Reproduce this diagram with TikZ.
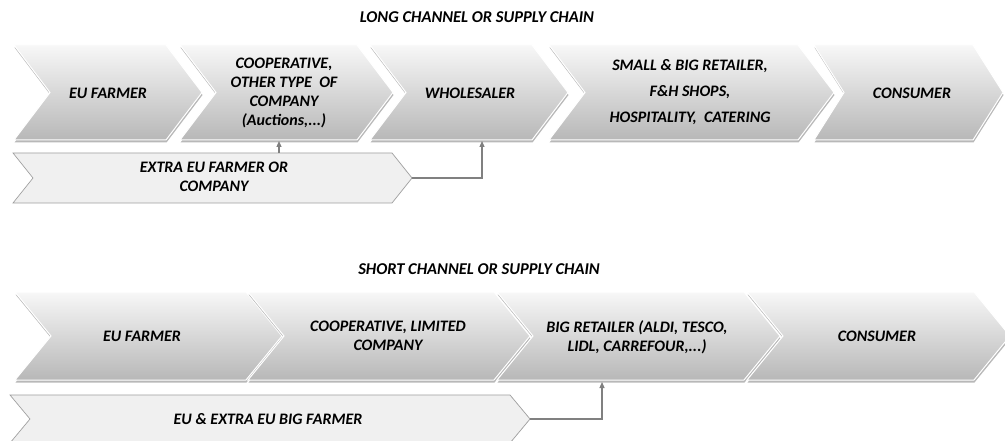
\documentclass[tikz,border=0pt]{standalone}
\usepackage{fontspec}
\setmainfont{Carlito}
\usetikzlibrary{shadows,arrows.meta}
\tikzset{
  chev/.style={top color=black!3, bottom color=black!28, draw=white, line width=1pt,
    drop shadow={shadow xshift=0.5pt, shadow yshift=-2.5pt, opacity=0.28, fill=black}},
  wide/.style={fill=black!6, draw=black!38, line width=0.7pt},
  lbl/.style={font=\fontsize{16}{19}\selectfont\bfseries\itshape, align=center, inner sep=0pt, text=black},
  ttl/.style={font=\fontsize{16.5}{19}\selectfont\bfseries\itshape, inner sep=0pt},
  conn/.style={draw=black!50, line width=1.2pt, -{Triangle[length=6pt,width=5pt]}},
}
% chevron: left x, tip x, top y, bottom y, depth, style
\newcommand{\mychev}[6]{%
  \path[#6] (#1,#3) -- ({#2-#5},#3) -- (#2,{(#3+#4)/2}) -- ({#2-#5},#4) -- (#1,#4) -- ({#1+#5},{(#3+#4)/2}) -- cycle;}
\begin{document}
\begin{tikzpicture}[x=1pt,y=-1pt]
\useasboundingbox (0,0) rectangle (1005,441);
\clip (0,0) rectangle (1005,441);
\fill[white] (0,0) rectangle (1005,441);

% ---------- LONG CHANNEL ----------
\node[ttl] (titleLong) at (477,17) {LONG CHANNEL OR SUPPLY CHAIN};

\mychev{14}{202}{45}{140}{36}{chev}
\mychev{180}{393}{45}{140}{36}{chev}
\mychev{370}{568}{45}{140}{36}{chev}
\mychev{549}{834}{45}{140}{36}{chev}
\mychev{814}{1003}{45}{140}{30}{chev}

\node[lbl] (tFarmer) at (108,93) {EU FARMER};
\node[lbl] (tCoop) at (284,93) {COOPERATIVE,\\OTHER TYPE\ \ OF\\COMPANY\\(Auctions,...)};
\node[lbl] (tWhole) at (470,93) {WHOLESALER};
\node[lbl] (tRetail) at (690,92) {SMALL \& BIG RETAILER,\\[7pt]F\&H SHOPS,\\[7pt]HOSPITALITY,\ \ CATERING};
\node[lbl] (tCons) at (912,93) {CONSUMER};

\mychev{13}{412}{153}{203}{20}{wide}
\node[lbl] (tExtra) at (214,177) {EXTRA EU FARMER OR\\COMPANY};

\coordinate (extraTip) at (412,178);
\coordinate (extraTop) at (279,153);
\coordinate (coopBot) at (279,141);
\coordinate (wholeBot) at (482,141);
\draw[conn] (extraTop) -- (coopBot);
\draw[conn] (extraTip) -| (wholeBot);

% ---------- SHORT CHANNEL ----------
\node[ttl] (titleShort) at (479,269) {SHORT CHANNEL OR SUPPLY CHAIN};

\mychev{15}{282}{292}{380}{36}{chev}
\mychev{248}{530}{292}{380}{36}{chev}
\mychev{497}{780}{292}{380}{36}{chev}
\mychev{747}{1010}{292}{380}{36}{chev}

\node[lbl] (sFarmer) at (142,336) {EU FARMER};
\node[lbl] (sCoop) at (388,336) {COOPERATIVE, LIMITED\\COMPANY};
\node[lbl] (sRetail) at (637,337) {BIG RETAILER (ALDI, TESCO,\\LIDL, CARREFOUR,...)};
\node[lbl] (sCons) at (877,336) {CONSUMER};

\mychev{10}{530}{395}{443}{20}{wide}
\node[lbl] (sBig) at (268,419) {EU \& EXTRA EU BIG FARMER};

\coordinate (bigTip) at (530,419);
\coordinate (retailBot) at (602,382);
\draw[conn] (bigTip) -| (retailBot);
\end{tikzpicture}
\end{document}
